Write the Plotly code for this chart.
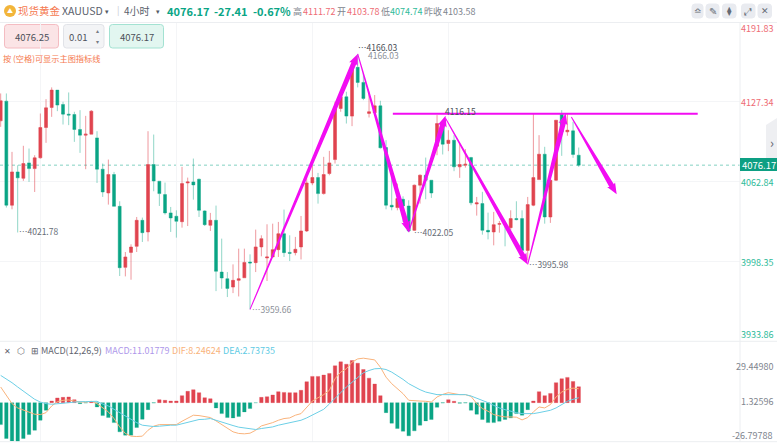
# Grafico XAUUSD 4 horas con MACD
import math
import plotly.graph_objects as go

W, H = 777, 444
FONT = "Noto Sans CJK SC"

# velas
opens = [4112.0,4127.9,4043.8,4070.7,4065.6,4078.0,4073.4,4082.1,4106.6,4122.8,
         4136.8,4125.2,4117.4,4117.1,4105.0,4100.4,4101.2,4098.2,4072.9,4053.7,
         4068.6,4042.9,3993.6,4005.7,4010.6,4031.6,4022.2,4076.7,4063.2,4052.4,
         4037.6,4034.9,4030.5,4061.8,4062.6,4064.8,4039.2,4027.6,4031.6,3989.8,
         3984.4,3977.7,3983.1,3985.2,3997.9,3997.4,4010.1,4001.2,4002.0,4007.9,
         4020.8,4005.7,4005.5,4010.1,4023.0,4061.8,4066.2,4053.2,4069.4,4080.7,
         4122.0,4131.4,4115.8,4155.2,4143.0,4118.0,4118.5,4124.1,4090.4,4043.8,
         4041.9,4048.6,4043.2,4023.5,4060.0,4068.1,4064.0,4091.5,4109.8,4093.7,
         4096.3,4074.8,4076.1,4082.3,4044.8,4045.1,4023.5,4022.2,4028.4,4028.9,
         4025.7,4033.0,4033.0,4007.3,4043.8,4064.5,4085.0,4034.3,4064.0,4117.4,
         4103.1,4103.9,4084.2]
highs = [4134.1,4134.1,4086.9,4076.1,4091.8,4089.6,4084.2,4117.9,4129.5,4139.0,
         4136.8,4127.4,4134.9,4119.3,4120.6,4116.0,4120.6,4103.6,4077.5,4080.7,
         4070.7,4047.0,4006.0,4012.2,4034.3,4033.8,4103.6,4100.9,4063.2,4062.1,
         4042.4,4039.7,4074.8,4066.1,4081.5,4065.3,4039.7,4037.6,4043.5,4016.8,
         3989.8,3996.0,4008.7,4008.7,4004.1,4024.1,4019.5,4028.4,4028.9,4030.3,
         4040.3,4019.5,4018.2,4035.1,4066.7,4078.0,4069.9,4082.9,4087.7,4127.4,
         4135.5,4135.5,4158.4,4166.03,4150.3,4135.5,4132.8,4128.2,4096.4,4069.4,
         4061.3,4051.0,4047.8,4060.5,4068.6,4082.3,4064.0,4116.6,4112.5,4104.4,
         4100.4,4093.7,4089.1,4082.9,4050.5,4054.6,4037.8,4038.4,4031.1,4030.3,
         4039.7,4047.0,4039.7,4050.5,4117.9,4100.4,4091.0,4064.0,4112.5,4120.6,
         4117.4,4111.2,4090.4]
lows = [4107.1,4041.9,4040.5,4021.78,4063.5,4062.6,4054.5,4081.5,4094.2,4115.2,
        4119.8,4109.0,4108.5,4095.0,4086.1,4072.9,4101.2,4061.8,4050.5,4044.3,
        4042.9,3986.6,3986.3,3983.6,4006.0,4014.1,4014.6,4055.1,4043.2,4036.2,
        4022.2,4017.6,4025.7,4027.0,4048.3,4034.3,4027.0,4023.0,3974.4,3976.3,
        3969.6,3972.8,3970.1,3985.2,3959.66,3989.8,4002.5,3982.6,4002.0,4002.0,
        4002.0,3998.7,4003.3,4000.0,4022.2,4060.0,4045.1,4052.4,4068.0,4077.5,
        4119.3,4109.8,4107.7,4139.0,4128.7,4114.7,4118.0,4089.6,4040.5,4039.7,
        4039.7,4030.3,4022.05,4023.0,4045.1,4048.6,4049.7,4084.2,4084.8,4087.5,
        4071.3,4065.9,4074.2,4043.8,4035.4,4020.0,4016.2,4011.4,4021.6,4010.6,
        4023.5,4031.6,4007.3,3999.3,4043.0,4064.5,4028.9,4029.5,4063.4,4083.7,
        4099.9,4082.1,4074.74]
closes = [4128.2,4043.8,4070.7,4065.9,4077.5,4073.4,4082.1,4106.6,4122.5,4136.8,
          4124.7,4117.4,4116.6,4105.0,4100.4,4101.2,4119.8,4072.9,4054.5,4068.6,
          4042.9,3993.3,4002.0,4010.0,4031.6,4021.6,4076.7,4063.4,4053.2,4037.6,
          4033.5,4030.8,4061.3,4062.6,4060.2,4039.7,4028.1,4031.6,3990.4,3985.0,
          3976.6,3983.1,3984.4,3997.6,3997.1,4010.1,4016.8,4002.0,4007.9,4020.8,
          4005.5,4004.9,4008.2,4023.0,4061.8,4066.2,4053.2,4068.6,4078.0,4122.0,
          4131.4,4115.8,4155.2,4143.0,4130.1,4119.3,4124.1,4090.2,4043.8,4042.4,
          4049.2,4043.2,4023.0,4060.0,4068.1,4064.0,4053.7,4109.8,4093.1,4096.3,
          4074.8,4076.7,4076.9,4045.7,4045.7,4023.5,4022.2,4028.1,4028.9,4028.4,
          4033.0,4032.2,4007.3,4044.3,4066.1,4085.0,4034.3,4064.0,4112.5,4103.1,
          4104.4,4084.8,4076.17]

# MACD
macd_hist = [-17.8,-29.1,-31.2,-31.8,-29.1,-25.9,-22.4,-14.3,-6.2,1.3,3.8,4.3,4.6,2.4,-0.8,-0.3,0.5,
             -3.5,-10.5,-12.1,-16.2,-23.7,-26.4,-26.4,-20.2,-13.5,-5.7,-0.3,2.4,1.9,1.3,1.3,5.7,9.2,
             10.5,8.1,4.0,3.2,-4.3,-8.9,-12.1,-12.4,-11.3,-7.5,-4.8,-0.1,4.3,4.8,6.2,8.9,8.3,8.1,8.1,
             10.0,17.0,21.3,21.3,22.4,23.7,29.9,33.1,31.2,34.2,32.0,26.9,19.9,15.1,5.7,-8.1,-16.7,
             -21.0,-23.2,-26.9,-22.9,-18.3,-14.8,-13.7,-3.8,-0.3,2.4,1.1,-0.5,-0.3,-6.2,-9.4,-13.7,
             -16.2,-16.2,-15.1,-13.7,-12.4,-8.9,-10.2,-5.7,1.3,8.9,5.7,7.5,16.2,19.4,20.5,17.2,12.9]
dif = [12.7,5.9,-0.8,-4.3,-6.2,-7.8,-9.4,-9.7,-8.1,-2.7,0.8,1.9,2.2,1.3,0.5,0.5,1.1,-0.8,-4.3,-7.5,
       -12.9,-19.7,-25.0,-27.2,-27.5,-27.2,-22.4,-19.1,-17.8,-17.8,-17.8,-17.8,-15.1,-12.4,-10.2,
       -10.5,-11.6,-12.1,-14.8,-17.8,-21.0,-23.7,-25.0,-25.3,-24.8,-22.4,-18.9,-17.8,-16.2,-14.3,
       -12.9,-12.4,-10.2,-8.9,-3.5,1.3,4.0,6.5,10.0,19.4,24.8,27.5,32.9,35.5,36.1,35.3,34.7,28.8,
       20.7,15.4,11.3,7.3,1.9,1.3,1.3,1.1,0.5,4.6,6.7,8.1,7.3,6.5,6.5,5.1,-0.8,-4.8,-7.0,-9.7,-10.8,
       -11.6,-11.6,-11.8,-14.0,-12.1,-7.5,-3.5,-4.3,-1.6,4.6,8.6,10.8,11.8,11.3]
dea = [22.1,19.4,16.2,12.7,9.2,5.9,2.7,0.5,-0.8,-1.3,-1.1,-0.5,0.0,0.5,0.8,0.8,1.1,1.1,-1.1,-2.7,
       -5.4,-8.1,-11.0,-13.5,-16.2,-18.3,-19.1,-19.4,-19.1,-18.6,-18.3,-18.3,-17.2,-15.9,-14.5,
       -13.7,-13.5,-12.9,-14.3,-15.9,-17.2,-18.6,-19.9,-20.7,-21.3,-21.8,-21.0,-20.5,-19.7,-18.3,
       -17.2,-16.2,-15.1,-14.3,-12.4,-10.2,-8.1,-5.4,-1.1,3.2,8.1,12.7,16.7,20.7,24.2,26.1,27.5,27.7,
       26.9,24.8,22.1,18.9,15.4,12.7,10.5,8.6,7.3,6.5,6.5,6.5,6.5,6.5,6.5,5.4,3.8,1.9,0.0,-2.2,-4.3,
       -5.7,-7.0,-8.1,-8.9,-9.2,-8.9,-8.1,-7.3,-6.2,-4.3,-1.3,1.1,2.7,4.0]

# ejes
price_ticks = [4191.83, 4127.34, 4062.84, 3998.35, 3933.86]
price_tick_labels = ["4191.83", "4127.34", "4062.84", "3998.35", "3933.86"]
macd_tick_labels = ["29.44980", "1.32596", "-26.79788"]
grid_idx = [7, 31, 55, 79]
last_price = 4076.17

# flechas dibujadas a mano (indice de vela, precio)
arrow_tail_x = [44, 63, 72, 78.5, 93, 100.7]
arrow_tail_y = [3959.66, 4166.03, 4022.05, 4114.0, 3995.98, 4115.0]
arrow_tip_x = [63, 72, 78.5, 93, 99.7, 108.7]
arrow_tip_y = [4166.03, 4022.05, 4116.15, 3995.98, 4117.9, 4052.7]
level_x = [69.2, 123]
level_y = [4117.7, 4117.7]

# etiquetas de maximos y minimos
pivot_labels = ["…4021.78", "…4166.03", "4166.03", "4116.15", "…3959.66", "…4022.05", "…3995.98"]
pivot_x = [2.9, 62.7, 64.5, 78, 44, 72.6, 92.9]
pivot_y = [4021.78, 4166.03, 4165, 4116.15, 3959.66, 4022.05, 3995.98]
pivot_shift = [1, 7, 0, 5, 0, 0, 0]
pivot_col = ["#666c75", "#4a4f57", "#8b9098", "#4a4f57", "#8b9098", "#666c75", "#666c75"]

RED, GREEN = "#e0444f", "#0aa585"
RED_W, GREEN_W = "rgba(224,68,79,0.55)", "rgba(10,165,133,0.45)"
PX_IDX = 5.667        # pixeles por vela
PRICE_PX = 0.8092     # precio por pixel


def px(x):
    return x / W


def py(y):
    return 1 - y / H


def arrow_poly(x0, y0, x1, y1):
    # flecha que engorda de la cola a la punta, calculada en pixeles
    dx = (x1 - x0) * PX_IDX
    dy = -(y1 - y0) / PRICE_PX
    n = math.hypot(dx, dy)
    ux, uy = dx / n, dy / n
    nx, ny = -uy, ux
    head = min(10, n * 0.35)
    pts = [(0, 0.5), (n - head, 2.6), (n - head - 1, 4.6), (n, 0), (n - head - 1, -4.6), (n - head, -2.6), (0, -0.5)]
    xs, ys = [], []
    for a, b in pts:
        ox = a * ux + b * nx
        oy = a * uy + b * ny
        xs.append(x0 + ox / PX_IDX)
        ys.append(y0 - oy * PRICE_PX)
    xs.append(xs[0])
    ys.append(ys[0])
    return xs, ys


def rbox(x0, y0, x1, y1, fill, border, r=3):
    path = (f"M{px(x0+r)},{py(y0)} L{px(x1-r)},{py(y0)} Q{px(x1)},{py(y0)} {px(x1)},{py(y0+r)} "
            f"L{px(x1)},{py(y1-r)} Q{px(x1)},{py(y1)} {px(x1-r)},{py(y1)} "
            f"L{px(x0+r)},{py(y1)} Q{px(x0)},{py(y1)} {px(x0)},{py(y1-r)} "
            f"L{px(x0)},{py(y0+r)} Q{px(x0)},{py(y0)} {px(x0+r)},{py(y0)} Z")
    return dict(type="path", xref="paper", yref="paper", path=path, fillcolor=fill,
                line=dict(color=border, width=1), layer="below")


def label(x, y, text, color, size, anchor="left", bold=False):
    return dict(xref="paper", yref="paper", x=px(x), y=py(y), text=f"<b>{text}</b>" if bold else text,
                showarrow=False, xanchor=anchor, yanchor="middle", borderpad=0, borderwidth=0,
                font=dict(family=FONT, size=size, color=color))


idx = list(range(len(opens)))
fig = go.Figure()

fig.add_trace(go.Candlestick(
    x=idx, open=opens, high=highs, low=lows, close=closes, whiskerwidth=0,
    increasing=dict(line=dict(color=RED_W, width=1), fillcolor=RED),
    decreasing=dict(line=dict(color=GREEN_W, width=1), fillcolor=GREEN),
    hoverinfo="skip", showlegend=False))

fig.add_trace(go.Bar(
    x=idx, y=macd_hist, yaxis="y2", width=0.62,
    marker=dict(color=[RED if v >= 0 else GREEN for v in macd_hist],
                line=dict(color=[RED_W if v >= 0 else GREEN_W for v in macd_hist], width=0.6)),
    hoverinfo="skip", showlegend=False))
fig.add_trace(go.Scatter(x=idx, y=dif, yaxis="y2", mode="lines", line=dict(color="#f9b37c", width=1),
                         hoverinfo="skip", showlegend=False))
fig.add_trace(go.Scatter(x=idx, y=dea, yaxis="y2", mode="lines", line=dict(color="#6ccfe6", width=1),
                         hoverinfo="skip", showlegend=False))

fig.add_trace(go.Scatter(x=level_x, y=level_y, mode="lines", line=dict(color="#f20df2", width=2),
                         hoverinfo="skip", showlegend=False))
for i in range(len(arrow_tail_x)):
    ax, ay = arrow_poly(arrow_tail_x[i], arrow_tail_y[i], arrow_tip_x[i], arrow_tip_y[i])
    fig.add_trace(go.Scatter(x=ax, y=ay, mode="lines", fill="toself", fillcolor="#f20df2",
                             line=dict(width=0, color="#f20df2"), hoverinfo="skip", showlegend=False))

shapes = [
    # lineas de separacion
    dict(type="line", xref="paper", yref="paper", x0=0, x1=1, y0=py(22.5), y1=py(22.5), line=dict(color="#eceef1", width=1)),
    dict(type="line", xref="paper", yref="paper", x0=0, x1=1, y0=py(341.3), y1=py(341.3), line=dict(color="#eceef1", width=1)),
    dict(type="line", xref="paper", yref="paper", x0=0, x1=1, y0=py(441.7), y1=py(441.7), line=dict(color="#eceef1", width=1)),
    dict(type="line", xref="paper", yref="paper", x0=px(740), x1=px(740), y0=py(22), y1=py(441.7), line=dict(color="#eceef1", width=1)),
    # precio actual
    dict(type="line", xref="x", yref="y", x0=-0.12, x1=130.46, y0=last_price, y1=last_price, layer="below",
         line=dict(color="rgba(10,165,133,0.5)", width=1, dash="dot")),
    dict(type="rect", xref="paper", yref="paper", x0=px(740), x1=1, y0=py(158), y1=py(171), fillcolor="#0d9f83", line=dict(width=0)),
    # pestana lateral
    dict(type="path", xref="paper", yref="paper", fillcolor="#eeeff2", line=dict(width=0),
         path=f"M{px(777)},{py(118)} L{px(766)},{py(125)} L{px(766)},{py(158)} L{px(777)},{py(158)} Z"),
    # cuadros de precio
    rbox(4.5, 24.5, 58.5, 48, "#fbe4e6", "#f4bcc2"),
    rbox(63.5, 24.5, 104, 48, "#f3f4f6", "#e1e3e8"),
    rbox(109.5, 24.5, 163.5, 48, "#e2f6f0", "#a3e2d2"),
    # botones arriba a la derecha
    rbox(692, 4, 703, 18, "#e9ebf0", "#e9ebf0"),
    rbox(706, 4, 719, 18, "#e9ebf0", "#e9ebf0"),
    rbox(722.5, 4, 736, 18, "#e9ebf0", "#e9ebf0"),
    rbox(741.5, 4, 755, 18, "#e9ebf0", "#e9ebf0"),
    rbox(758, 4, 771.5, 18, "#e9ebf0", "#e9ebf0"),
    # icono de oro
    dict(type="circle", xref="paper", yref="paper", x0=px(4), x1=px(16), y0=py(5), y1=py(17), fillcolor="#f2b53a", line=dict(width=0)),
]

annos = [
    label(10, 11, "▲", "#ffffff", 6, "center"),
    label(18, 11, "现货黄金", "#f5794f", 10.5),
    label(61.5, 11, "XAUUSD", "#5a606b", 10.5),
    label(105, 11, "▾", "#555b66", 7),
    label(117, 10.5, "|", "#c6c9d0", 9),
    label(124, 11, "4小时", "#5a606b", 10),
    label(155.5, 11, "▾", "#555b66", 7),
    label(167, 11, "4076.17", "#0aa585", 11, bold=True),
    label(214, 11, "-27.41", "#0aa585", 11, bold=True),
    label(253, 11, "-0.67%", "#0aa585", 11, bold=True),
    label(293, 11.5, "高", "#80858e", 9),
    label(303, 11.5, "4111.72", "#ee6b74", 9),
    label(337, 11.5, "开", "#80858e", 9),
    label(347, 11.5, "4103.78", "#ee6b74", 9),
    label(381, 11.5, "低", "#80858e", 9),
    label(390, 11.5, "4074.74", "#2fbb9a", 9),
    label(424, 11.5, "昨收", "#80858e", 9),
    label(443, 11.5, "4103.58", "#80858e", 9),
    label(31.5, 36.5, "4076.25", "#4c5059", 9.5, "center"),
    label(69, 36.5, "0.01", "#4c5059", 9.5),
    label(98, 31, "▴", "#777c85", 6, "center"),
    label(98, 41.5, "▾", "#777c85", 6, "center"),
    label(136.5, 36.5, "4076.17", "#4c5059", 9.5, "center"),
    label(3, 58, "按 (空格)可显示主图指标线", "#f5794f", 8.2),
    # iconos
    label(697.5, 11, "≏", "#666b75", 9, "center"),
    label(712.5, 11, "✎", "#666b75", 10, "center"),
    label(729, 11, "⧫", "#666b75", 9, "center"),
    label(748, 11, "⤢", "#666b75", 10, "center"),
    label(765, 11, "✕", "#666b75", 9, "center"),
    label(771.5, 142, "›", "#5f646e", 13, "center"),
    label(758.5, 164.5, "4076.17", "#ffffff", 9.5, "center"),
    # leyenda del MACD
    label(4, 350.5, "✕", "#5f646e", 8),
    label(16.5, 350.5, "⬡", "#5f646e", 9),
    label(31, 350.5, "⊞", "#5f646e", 9),
    label(41, 350.5, "MACD(12,26,9)", "#5f646e", 9),
    label(105, 350.5, "MACD:11.01779", "#ae97ea", 9),
    label(172, 350.5, "DIF:8.24624", "#f9b37c", 9),
    label(222.5, 350.5, "DEA:2.73735", "#5fcbe4", 9),
]

# etiquetas del eje, colocadas como en la captura
price_label_y = [28, 102.5, 182.5, 262.5, 334]
price_label_col = ["#ee6b74", "#ee6b74", "#2fbb9a", "#2fbb9a", "#2fbb9a"]
for i, t in enumerate(price_tick_labels):
    annos.append(label(773, price_label_y[i], t, price_label_col[i], 9, "right"))
macd_label_y = [366, 401, 435.7]
for i, t in enumerate(macd_tick_labels):
    annos.append(label(773, macd_label_y[i], t, "#80858e", 9, "right"))

for i, t in enumerate(pivot_labels):
    annos.append(dict(xref="x", yref="y", x=pivot_x[i], y=pivot_y[i], yshift=pivot_shift[i], text=t, showarrow=False,
                      xanchor="left", yanchor="middle", font=dict(family=FONT, size=8.5, color=pivot_col[i])))

fig.update_layout(
    width=W, height=H, autosize=False, margin=dict(l=0, r=0, t=0, b=0),
    paper_bgcolor="#ffffff", plot_bgcolor="#ffffff", showlegend=False, dragmode=False,
    font=dict(family=FONT), boxgap=0.25, bargap=0.3,
    shapes=shapes, annotations=annos,
    xaxis=dict(domain=[0, 740 / W], range=[-0.12, 130.46], tickvals=grid_idx, showticklabels=False,
               showgrid=True, gridcolor="#f4f5f7", gridwidth=1, zeroline=False, showline=False,
               rangeslider=dict(visible=False), ticks=""),
    yaxis=dict(domain=[py(341.3), py(22)], range=[price_ticks[-1], price_ticks[0]], tickvals=price_ticks[1:-1],
               showticklabels=False, showgrid=True, gridcolor="#f4f5f7", gridwidth=1, zeroline=False, ticks=""),
    yaxis2=dict(domain=[py(441.7), py(341.3)], range=[-31.7, 49.8], showticklabels=False, showgrid=False,
                zeroline=False, anchor="x", ticks=""),
)

fig.write_html("out.html", config=dict(displayModeBar=False),
               post_script="document.body.style.margin='0';document.body.style.overflow='hidden';")
